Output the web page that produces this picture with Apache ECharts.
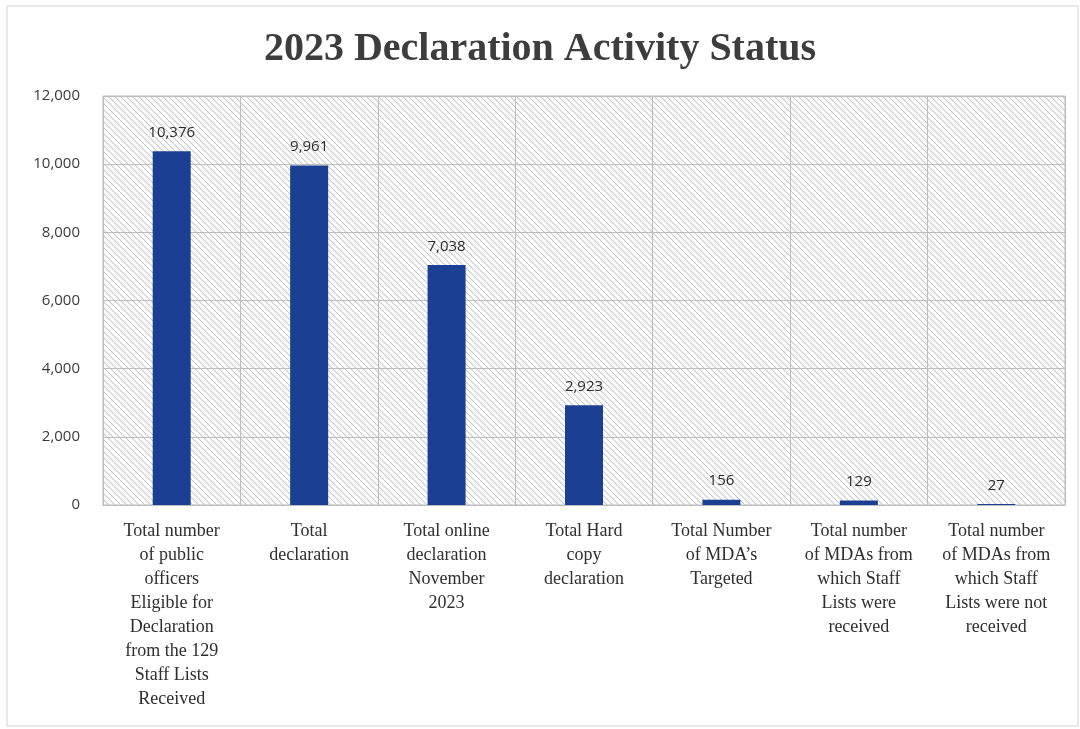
<!DOCTYPE html>
<html>
<head>
<meta charset="utf-8">
<script src="https://cdn.jsdelivr.net/npm/echarts@6/dist/echarts.min.js"></script>
<style>
  html, body { margin: 0; padding: 0; background: #ffffff; }
  #chart { width: 1080px; height: 729px; }
</style>
</head>
<body>
<div id="chart"></div>
<script>
// Category labels (wrapped as printed under each bar)
const categories = [
  'Total number\nof public\nofficers\nEligible for\nDeclaration\nfrom the 129\nStaff Lists\nReceived',
  'Total\ndeclaration',
  'Total online\ndeclaration\nNovember\n2023',
  'Total Hard\ncopy\ndeclaration',
  'Total Number\nof MDA\u2019s\nTargeted',
  'Total number\nof MDAs from\nwhich Staff\nLists were\nreceived',
  'Total number\nof MDAs from\nwhich Staff\nLists were not\nreceived'
];
const values = [10376, 9961, 7038, 2923, 156, 129, 27];
const yTicks = [0, 2000, 4000, 6000, 8000, 10000, 12000];

// Diagonal hatch used as the plot-area fill
function hatchCanvas() {
  const s = 6;
  const c = document.createElement('canvas');
  c.width = s; c.height = s;
  const ctx = c.getContext('2d');
  ctx.fillStyle = '#ffffff';
  ctx.fillRect(0, 0, s, s);
  ctx.strokeStyle = '#c8c8c8';
  ctx.lineWidth = 1.1;
  [-s, 0, s].forEach(k => {
    ctx.beginPath();
    ctx.moveTo(k, 0);
    ctx.lineTo(k + s, s);
    ctx.stroke();
  });
  return c;
}

const fmt = v => v.toLocaleString('en-US');

const chart = echarts.init(document.getElementById('chart'), null, { renderer: 'canvas' });
chart.setOption({
  backgroundColor: '#ffffff',
  animation: false,
  title: {
    text: '2023 Declaration Activity Status',
    left: 'center',
    top: 25,
    textStyle: {
      fontFamily: 'Liberation Serif',
      fontWeight: 'bold',
      fontSize: 40,
      color: '#3d3d3d'
    }
  },
  graphic: [{
    type: 'rect',
    shape: { x: 7, y: 6, width: 1071, height: 720 },
    style: { fill: 'none', stroke: '#e2e2e2', lineWidth: 1.5 },
    silent: true,
    z: -1
  }],
  grid: {
    left: 103,
    right: 15,
    top: 96,
    bottom: 224,
    show: true,
    backgroundColor: { image: hatchCanvas(), repeat: 'repeat' },
    borderColor: '#bdbdbd',
    borderWidth: 1
  },
  xAxis: {
    type: 'category',
    data: categories,
    axisLine: { show: true, lineStyle: { color: '#bdbdbd' } },
    axisTick: { show: false },
    splitLine: { show: true, lineStyle: { color: '#bdbdbd', width: 1 } },
    axisLabel: {
      interval: 0,
      margin: 14,
      fontFamily: 'Liberation Serif',
      fontSize: 18,
      lineHeight: 24,
      color: '#2e2e2e',
      align: 'center'
    }
  },
  yAxis: {
    type: 'value',
    min: 0,
    max: 12000,
    interval: 2000,
    axisLine: { show: false },
    axisTick: { show: false },
    splitLine: { show: true, lineStyle: { color: '#bdbdbd', width: 1 } },
    axisLabel: {
      margin: 23,
      fontFamily: 'Open Sans',
      fontSize: 15,
      color: '#3a3a3a',
      formatter: v => yTicks.includes(v) ? fmt(v) : ''
    }
  },
  series: [{
    type: 'bar',
    data: values,
    barWidth: 38,
    itemStyle: { color: '#1b3f93' },
    label: {
      show: true,
      position: 'top',
      distance: 11,
      fontFamily: 'Open Sans',
      fontSize: 15,
      color: '#2a2a2a',
      formatter: p => fmt(p.value)
    }
  }]
});
</script>
</body>
</html>
